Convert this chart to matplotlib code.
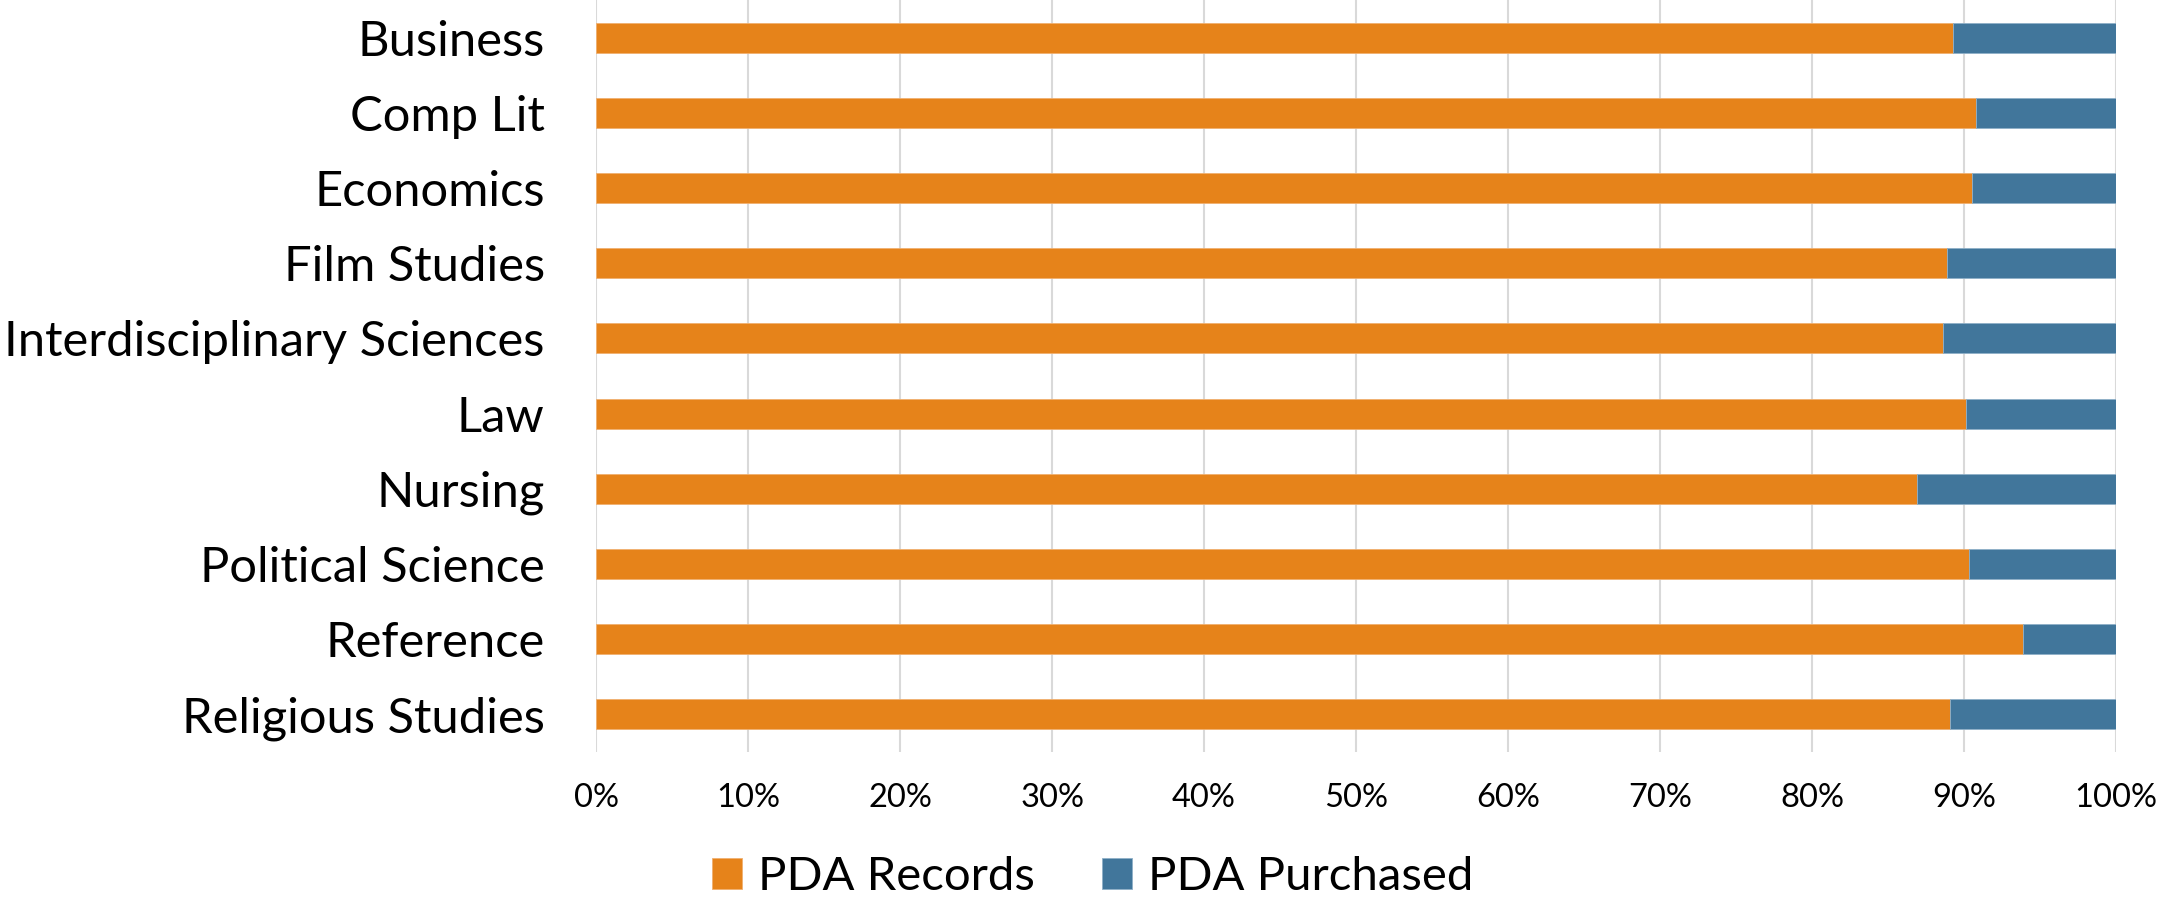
import matplotlib.pyplot as plt
from matplotlib.ticker import PercentFormatter

# 100% stacked bar: share of PDA records vs purchased per subject
subjects = ["Business", "Comp Lit", "Economics", "Film Studies",
            "Interdisciplinary Sciences", "Law", "Nursing",
            "Political Science", "Reference", "Religious Studies"]
pda_records = [89.3, 90.8, 90.5, 88.9, 88.6, 90.15, 86.9, 90.35, 93.9, 89.05]
pda_purchased = [10.7, 9.2, 9.5, 11.1, 11.4, 9.85, 13.1, 9.65, 6.1, 10.95]
xticks = [0, 10, 20, 30, 40, 50, 60, 70, 80, 90, 100]

ORANGE = "#E6831A"
BLUE = "#41769B"

plt.rcParams["font.family"] = ["Lato", "DejaVu Sans"]

fig = plt.figure(figsize=(21.59, 8.99), dpi=100)
ax = fig.add_axes([0.2761, 0.1635, 0.9801 - 0.2761, 1.0 - 0.1635])

pos = range(len(subjects))
ax.barh(pos, pda_records, height=0.4, color=ORANGE, edgecolor="#F0B070",
        linewidth=0.6, label="PDA Records", zorder=3)
ax.barh(pos, pda_purchased, left=pda_records, height=0.4, color=BLUE,
        edgecolor="#8FB0C8", linewidth=0.6, label="PDA Purchased", zorder=3)

ax.set_xlim(0, 100)
ax.set_ylim(len(subjects) - 0.5, -0.5)
ax.set_xticks(xticks)
ax.xaxis.set_major_formatter(PercentFormatter(decimals=0))
ax.set_yticks(list(pos))
ax.set_yticklabels(subjects)

ax.grid(axis="x", color="#D9D9D9", linewidth=1.5, zorder=0)
for s in ax.spines.values():
    s.set_visible(False)
ax.tick_params(axis="y", length=0, pad=37, labelsize=35.2)
ax.tick_params(axis="x", length=0, pad=22, labelsize=23.5)

fig.legend(loc="center", bbox_to_anchor=(0.506, 0.024), ncol=2, frameon=False,
           fontsize=34, handlelength=0.64, handleheight=0.64,
           handletextpad=0.34, columnspacing=1.42)

fig.savefig("out.png", dpi=100)
